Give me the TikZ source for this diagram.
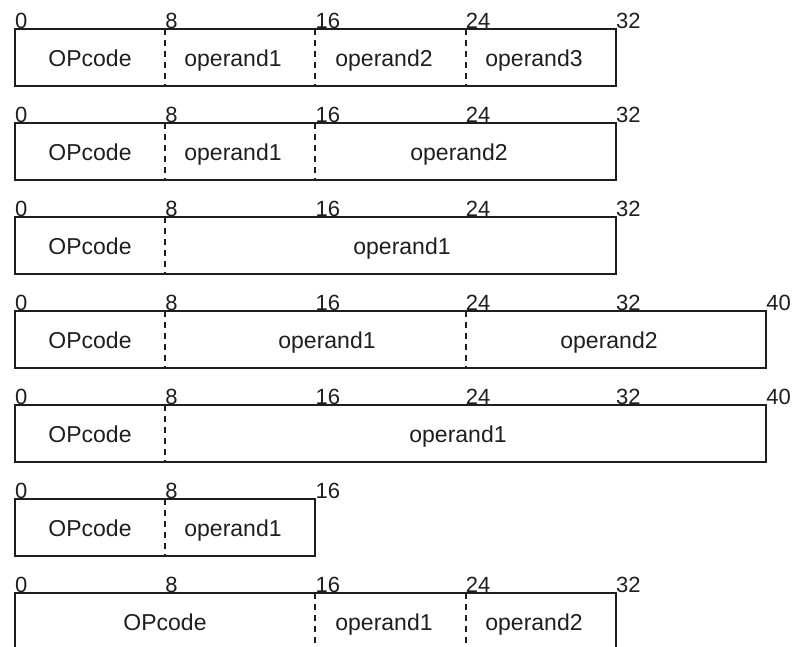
\documentclass[tikz,border=0pt]{standalone}
\usepackage{fontspec}
\setmainfont{Liberation Sans}
\definecolor{ink}{HTML}{1E1E1E}
\tikzset{
  boxline/.style={draw=ink, line width=2pt},
  divline/.style={draw=ink, line width=2pt, dash pattern=on 6pt off 5pt},
  bitlabel/.style={anchor=base west, inner sep=0pt, text=ink, font=\fontsize{22}{24}\selectfont},
  fieldtext/.style={anchor=base, inner sep=0pt, text=ink, font=\fontsize{23}{25}\selectfont}
}
\begin{document}
\begin{tikzpicture}[x=1pt,y=-1pt]
\useasboundingbox (0,0) rectangle (792,646);
\clip (0,0) rectangle (792,646);
\foreach \r/\w/\divs/\labs/\texts in {
  1/32/{8,16,24}/{0,8,16,24,32}/{90/OPcode,233/operand1,384/operand2,534/operand3},
  2/32/{8,16}/{0,8,16,24,32}/{90/OPcode,233/operand1,459/operand2},
  3/32/{8}/{0,8,16,24,32}/{90/OPcode,402/operand1},
  4/40/{8,24}/{0,8,16,24,32,40}/{90/OPcode,327/operand1,609/operand2},
  5/40/{8}/{0,8,16,24,32,40}/{90/OPcode,458/operand1},
  6/16/{8}/{0,8,16}/{90/OPcode,233/operand1},
  7/32/{16,24}/{0,8,16,24,32}/{165/OPcode,384/operand1,534/operand2}}{
  \pgfmathsetmacro{\top}{29.3+(\r-1)*94}
  \pgfmathsetmacro{\bot}{\top+56.5}
  \pgfmathsetmacro{\right}{15+\w*18.78}
  \coordinate (r\r-tl) at (15,\top);
  \coordinate (r\r-br) at (\right,\bot);
  \draw[boxline] (r\r-tl) rectangle (r\r-br);
  \foreach \d in \divs {
    \pgfmathsetmacro{\dx}{15+\d*18.78}
    \coordinate (r\r-d\d-t) at (\dx,\top);
    \coordinate (r\r-d\d-b) at (\dx,\bot);
    \draw[divline] (r\r-d\d-t) -- (r\r-d\d-b);
  }
  \foreach \l in \labs {
    \pgfmathsetmacro{\lx}{15+\l*18.78}
    \node[bitlabel] (r\r-l\l) at (\lx,\top-0.5) {\l};
  }
  \foreach \tx/\tt [count=\i] in \texts {
    \node[fieldtext] (r\r-t\i) at (\tx,\top+37) {\tt};
  }
}
\end{tikzpicture}
\end{document}
